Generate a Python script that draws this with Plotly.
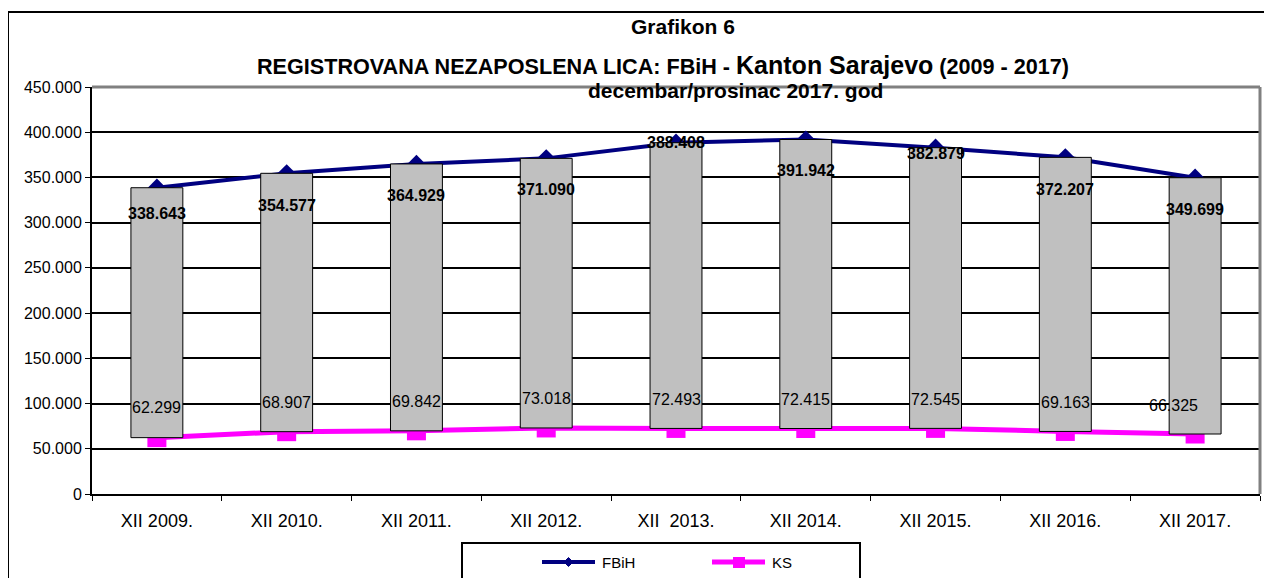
import plotly.graph_objects as go

categories = ["XII 2009.", "XII 2010.", "XII 2011.", "XII 2012.", "XII\u00a0\u00a02013.",
              "XII 2014.", "XII 2015.", "XII 2016.", "XII 2017."]
fbih = [338643, 354577, 364929, 371090, 388408, 391942, 382879, 372207, 349699]
ks = [62299, 68907, 69842, 73018, 72493, 72415, 72545, 69163, 66325]
y_ticks = [0, 50000, 100000, 150000, 200000, 250000, 300000, 350000, 400000, 450000]
series_names = ["FBiH", "KS"]

# label placement offsets (pixels), style only
fbih_yshift = [-26, -32, -32, -31, 0, -31, -6, -32, -32]
ks_yshift = [30, 29, 29, 29, 29, 29, 29, 29, 29]
ks_xshift = [0, 0, 0, 0, 0, 0, 0, 0, -22]

NAVY = "#000080"
MAGENTA = "#FF00FF"

def fmt(v):
    return f"{v:,}".replace(",", ".")

FONT = "Arial, Liberation Sans, sans-serif"

# page -> paper helpers (plot area in page px: left 92, right 1260, top 87, bottom 494)
PW, PH = 1168, 407

def px(x):
    return (x - 92) / PW

def py(y):
    return (494 - y) / PH

fig = go.Figure()

fig.add_trace(go.Scatter(x=categories, y=fbih, name=series_names[0], mode="lines+markers",
                         line=dict(color=NAVY, width=4),
                         marker=dict(symbol="diamond", size=14, color=NAVY),
                         showlegend=False, xaxis="x", yaxis="y"))
fig.add_trace(go.Scatter(x=categories, y=ks, name=series_names[1], mode="lines+markers",
                         line=dict(color=MAGENTA, width=5),
                         marker=dict(symbol="square", size=19, color=MAGENTA),
                         showlegend=False, xaxis="x", yaxis="y"))
fig.add_trace(go.Bar(x=categories, y=[f - k for f, k in zip(fbih, ks)], base=ks,
                     width=0.4, marker=dict(color="#C0C0C0", line=dict(color="#000000", width=1)),
                     showlegend=False, hoverinfo="skip", xaxis="x2", yaxis="y2"))

annotations = []
for i, c in enumerate(categories):
    annotations.append(dict(x=c, y=fbih[i], xref="x", yref="y", text=fmt(fbih[i]),
                            showarrow=False, yshift=fbih_yshift[i], yanchor="middle",
                            font=dict(family=FONT, size=16, color="black", weight="bold")))
    annotations.append(dict(x=c, y=ks[i], xref="x", yref="y", text=fmt(ks[i]),
                            showarrow=False, yshift=ks_yshift[i], xshift=ks_xshift[i],
                            yanchor="middle",
                            font=dict(family=FONT, size=16, color="black")))

# titles
annotations.append(dict(x=px(683), y=py(27), xref="paper", yref="paper", yanchor="middle",
                        text="<b>Grafikon 6</b>", showarrow=False,
                        font=dict(family=FONT, size=21, color="black")))
annotations.append(dict(x=px(663), y=py(65), xref="paper", yref="paper", yanchor="middle",
                        text="<b>REGISTROVANA NEZAPOSLENA LICA: FBiH - <span style='font-size:25px'>Kanton Sarajevo</span> (2009 - 2017)</b>",
                        showarrow=False, font=dict(family=FONT, size=21.6, color="black")))
annotations.append(dict(x=px(735), y=py(91), xref="paper", yref="paper", yanchor="middle",
                        text="<b>decembar/prosinac 2017. god</b>", showarrow=False,
                        font=dict(family=FONT, size=21, color="black")))

# custom legend text
annotations.append(dict(x=px(600), y=py(562), xref="paper", yref="paper", xanchor="left",
                        yanchor="middle", text=series_names[0], showarrow=False,
                        font=dict(family=FONT, size=15, color="black")))
annotations.append(dict(x=px(770), y=py(562), xref="paper", yref="paper", xanchor="left",
                        yanchor="middle", text=series_names[1], showarrow=False,
                        font=dict(family=FONT, size=15, color="black")))

def diamond_path(cx, cy, r):
    return (f"M {px(cx - r)} {py(cy)} L {px(cx)} {py(cy - r)} "
            f"L {px(cx + r)} {py(cy)} L {px(cx)} {py(cy + r)} Z")

shapes = [
    # outer frame
    dict(type="rect", xref="paper", yref="paper", x0=px(8), x1=px(1268),
         y0=py(640), y1=py(12), line=dict(color="black", width=2),
         fillcolor="rgba(0,0,0,0)", layer="below"),
    # plot area border top and right (gray)
    dict(type="line", xref="paper", yref="paper", x0=0, x1=1, y0=1, y1=1,
         line=dict(color="#808080", width=3), layer="above"),
    dict(type="line", xref="paper", yref="paper", x0=1, x1=1, y0=0, y1=1,
         line=dict(color="#808080", width=3), layer="above"),
    # legend box
    dict(type="rect", xref="paper", yref="paper", x0=px(462), x1=px(860),
         y0=py(640), y1=py(543), line=dict(color="black", width=2),
         fillcolor="white", layer="above"),
    # legend samples
    dict(type="line", xref="paper", yref="paper", x0=px(542), x1=px(595), y0=py(562), y1=py(562),
         line=dict(color=NAVY, width=4), layer="above"),
    dict(type="path", xref="paper", yref="paper", path=diamond_path(568.5, 562, 4.5),
         fillcolor=NAVY, line=dict(color=NAVY, width=1), layer="above"),
    dict(type="line", xref="paper", yref="paper", x0=px(712), x1=px(765), y0=py(562), y1=py(562),
         line=dict(color=MAGENTA, width=5), layer="above"),
    dict(type="rect", xref="paper", yref="paper", x0=px(733), x1=px(745), y0=py(568), y1=py(557),
         fillcolor=MAGENTA, line=dict(color=MAGENTA, width=0), layer="above"),
]

fig.update_layout(
    width=1272, height=578,
    margin=dict(l=84, r=20, t=79, b=92),
    paper_bgcolor="white", plot_bgcolor="white",
    separators=",.",
    font=dict(family=FONT, size=16, color="black"),
    showlegend=False,
    xaxis=dict(type="category", categoryorder="array", categoryarray=categories,
               range=[-0.5, 8.5], showline=True, linecolor="black", linewidth=2,
               ticks="outside", tickson="boundaries", ticklen=5, tickcolor="black",
               tickfont=dict(size=18), ticklabelstandoff=9, showgrid=False, zeroline=False),
    yaxis=dict(range=[0, 450000], tickvals=y_ticks, tickformat=",d", showline=True,
               linecolor="black", linewidth=2, ticks="outside", ticklen=5, tickcolor="black",
               showgrid=True, gridcolor="black", gridwidth=2, zeroline=False,
               tickfont=dict(size=16)),
    xaxis2=dict(type="category", categoryorder="array", categoryarray=categories,
                range=[-0.5, 8.5], overlaying="x", visible=False),
    yaxis2=dict(range=[0, 450000], overlaying="y", visible=False),
    annotations=annotations,
    shapes=shapes,
)

fig.write_html("out.html")
